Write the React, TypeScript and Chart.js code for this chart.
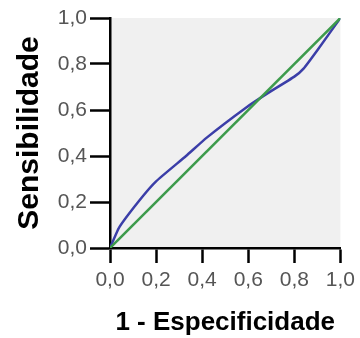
import React, { useEffect, useRef } from "react";
import { Chart, registerables } from "chart.js";

Chart.register(...registerables);

const rocX = [0, 0.04, 0.13, 0.2, 0.33, 0.42, 0.59, 0.68, 0.8, 0.84, 0.9, 1.0];
const rocY = [0, 0.09, 0.21, 0.29, 0.4, 0.48, 0.61, 0.67, 0.745, 0.78, 0.86, 1.0];
const refX = [0, 1];
const refY = [0, 1];
const tickValues = [0, 0.2, 0.4, 0.6, 0.8, 1.0];
const xTitle = "1 - Especificidade";
const yTitle = "Sensibilidade";

const bgPlugin = {
  id: "plotBg",
  beforeDraw(chart: any) {
    const { ctx, chartArea } = chart;
    ctx.save();
    ctx.fillStyle = "#f0f0f0";
    ctx.fillRect(chartArea.left, chartArea.top, chartArea.right - chartArea.left, chartArea.bottom - chartArea.top);
    ctx.restore();
  },
};

const FONT = "Arial, 'Liberation Sans', sans-serif";

export default function App() {
  const ref = useRef<HTMLCanvasElement>(null);
  useEffect(() => {
    document.body.style.margin = "0";
    const fmt = (v: any) => Number(v).toFixed(1).replace(".", ",");
    const chart = new Chart(ref.current!, {
      type: "line",
      data: {
        datasets: [
          {
            data: refX.map((x, i) => ({ x, y: refY[i] })),
            borderColor: "#3d9b4c",
            borderWidth: 2.5,
            pointRadius: 0,
            fill: false,
          },
          {
            data: rocX.map((x, i) => ({ x, y: rocY[i] })),
            borderColor: "#3b3ea8",
            borderWidth: 2.5,
            pointRadius: 0,
            fill: false,
            tension: 0.15,
          },
        ],
      },
      options: {
        responsive: false,
        animation: false,
        plugins: { legend: { display: false }, tooltip: { enabled: false } },
        layout: { padding: { top: 18, right: 15, left: 0, bottom: 0 } },
        scales: {
          x: {
            type: "linear",
            min: 0,
            max: 1,
            afterBuildTicks: (s: any) => { s.ticks = tickValues.map((v) => ({ value: v })); },
            afterFit: (s: any) => { s.height = 90; },
            ticks: { callback: fmt, color: "#555", font: { family: FONT, size: 21 }, padding: 5, maxRotation: 0 },
            grid: { drawOnChartArea: false, drawTicks: true, tickLength: 15, tickWidth: 2.5, tickColor: "#000" },
            border: { color: "#000", width: 2.5 },
            title: { display: true, text: xTitle, color: "#000", font: { family: FONT, size: 26, weight: "bold" }, padding: { top: 0, bottom: 0 } },
          },
          y: {
            type: "linear",
            min: 0,
            max: 1,
            afterBuildTicks: (s: any) => { s.ticks = tickValues.map((v) => ({ value: v })); },
            afterFit: (s: any) => { s.width = 110; },
            ticks: { callback: fmt, color: "#555", font: { family: FONT, size: 21 }, padding: 3 },
            grid: { drawOnChartArea: false, drawTicks: true, tickLength: 20, tickWidth: 2.5, tickColor: "#000" },
            border: { color: "#000", width: 2.5 },
            title: { display: true, text: yTitle, color: "#000", font: { family: FONT, size: 30, weight: "bold" }, padding: { top: 12, bottom: 0 } },
          },
        },
      },
      plugins: [bgPlugin],
    } as any);
    return () => chart.destroy();
  }, []);
  return <canvas ref={ref} width={360} height={338} style={{ display: "block" }} />;
}
